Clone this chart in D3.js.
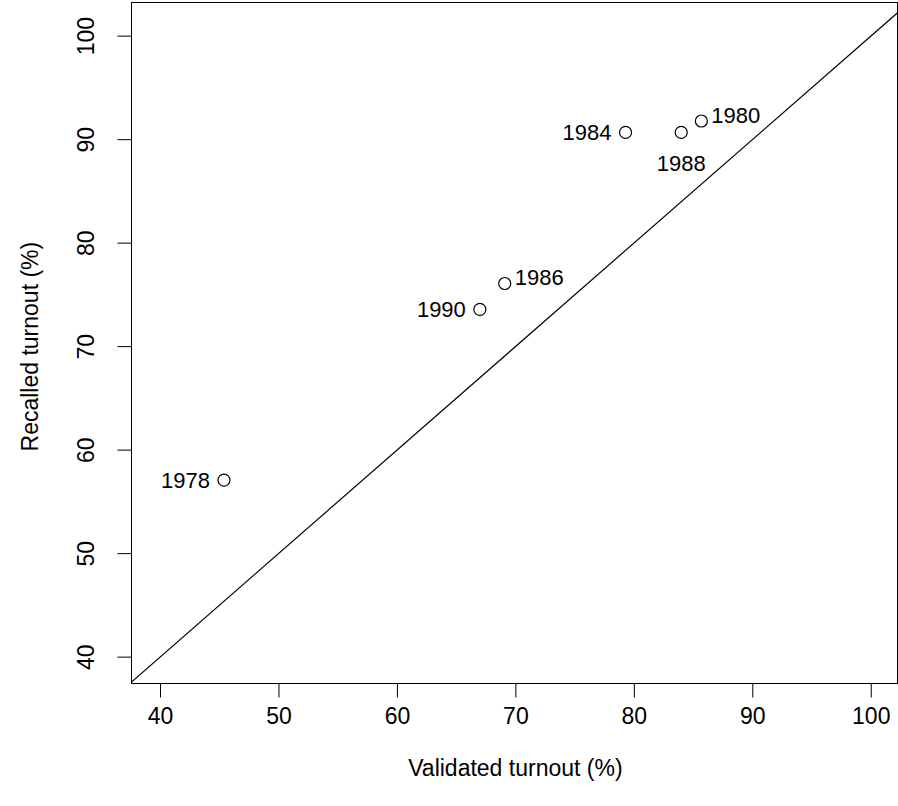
<!DOCTYPE html>
<html><head><meta charset="utf-8">
<script src="https://cdn.jsdelivr.net/npm/d3@7"></script>
<style>body{margin:0;background:#fff}text{font-family:"Liberation Sans",Arial,sans-serif}</style>
</head><body><svg id="chart" width="898" height="806"></svg>
<script>
// election years and turnout values (%)
const years = ["1978", "1980", "1984", "1986", "1988", "1990"];
const validated = [45.4, 85.7, 79.3, 69.1, 84.0, 67.0];
const recalled = [57.1, 91.8, 90.7, 76.1, 90.7, 73.6];
const labelPos = ["left", "right", "left", "right", "below", "left"];
const ticks = [40, 50, 60, 70, 80, 90, 100];

const svg = d3.select("#chart");
const plotL = 131, plotR = 898, plotT = 2, plotB = 683;
const fs = 23;
const x = d3.scaleLinear().domain([37.55, 102.3]).range([plotL, plotR]);
const y = d3.scaleLinear().domain([37.5, 103.3]).range([plotB, plotT]);

svg.append("defs").append("clipPath").attr("id", "clip")
  .append("rect").attr("x", plotL).attr("y", plotT).attr("width", plotR - plotL).attr("height", plotB - plotT);

svg.append("rect").attr("x", plotL + 0.5).attr("y", plotT + 0.5)
  .attr("width", plotR - plotL - 1).attr("height", plotB - plotT)
  .attr("fill", "none").attr("stroke", "#000");

// x axis
const xa = svg.append("g").attr("transform", `translate(0,${plotB + 0.5})`)
  .call(d3.axisBottom(x).tickValues(ticks).tickSize(14).tickPadding(10));
xa.select(".domain").attr("d", `M${x(40)},0H${x(100)}`);
xa.selectAll("text").attr("font-size", fs).attr("fill", "#000");

// y axis
const ya = svg.append("g").attr("transform", `translate(${plotL + 0.5},0)`)
  .call(d3.axisLeft(y).tickValues(ticks).tickSize(14));
ya.select(".domain").attr("d", `M0,${y(40)}V${y(100)}`);
ya.selectAll(".tick").attr("transform", null);
ya.selectAll(".tick line").attr("y1", d => y(d)).attr("y2", d => y(d));
ya.selectAll("text").attr("font-size", fs).attr("fill", "#000")
  .attr("text-anchor", "middle")
  .attr("x", -46).attr("y", d => y(d)).attr("dy", "0.35em")
  .attr("transform", d => `rotate(-90,-46,${y(d)})`);

svg.append("text").attr("x", (x(40) + x(100)) / 2).attr("y", 768).attr("dy", "0.35em")
  .attr("text-anchor", "middle").attr("font-size", fs).text("Validated turnout (%)");
svg.append("text").attr("transform", `translate(30,${(y(40) + y(100)) / 2}) rotate(-90)`)
  .attr("dy", "0.35em").attr("text-anchor", "middle").attr("font-size", fs).text("Recalled turnout (%)");

// identity line
svg.append("line").attr("clip-path", "url(#clip)")
  .attr("x1", x(30)).attr("y1", y(30)).attr("x2", x(110)).attr("y2", y(110))
  .attr("stroke", "#000").attr("stroke-width", 1.2);

years.forEach((yr, i) => {
  const cx = x(validated[i]), cy = y(recalled[i]);
  svg.append("circle").attr("cx", cx).attr("cy", cy).attr("r", 6)
    .attr("fill", "none").attr("stroke", "#000").attr("stroke-width", 1.2);
  const t = svg.append("text").attr("font-size", 22).attr("dy", "0.35em").text(yr);
  if (labelPos[i] === "left") t.attr("x", cx - 14).attr("y", cy).attr("text-anchor", "end");
  else if (labelPos[i] === "right") t.attr("x", cx + 10).attr("y", cy - 6).attr("text-anchor", "start");
  else t.attr("x", cx).attr("y", cy + 31).attr("text-anchor", "middle");
});
</script></body></html>
